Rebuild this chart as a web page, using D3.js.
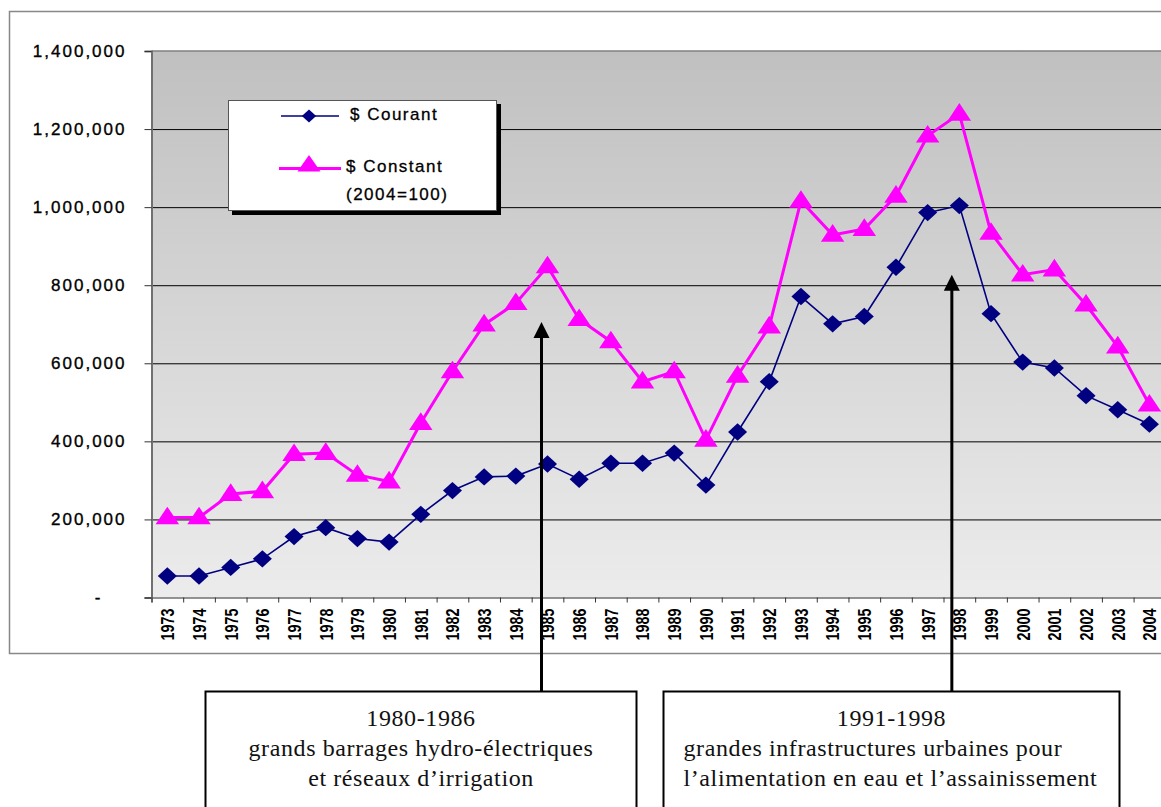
<!DOCTYPE html>
<html>
<head>
<meta charset="utf-8">
<script src="https://cdn.jsdelivr.net/npm/d3@7"></script>
<style>
body { margin: 0; background: #fff; }
svg { display: block; }
</style>
</head>
<body>
<svg width="1161" height="807"></svg>
<script>
// chart values
var years = [1973,1974,1975,1976,1977,1978,1979,1980,1981,1982,1983,1984,1985,1986,1987,1988,
  1989,1990,1991,1992,1993,1994,1995,1996,1997,1998,1999,2000,2001,2002,2003,2004];
var courant = [55000,55000,77000,99000,156000,179000,151000,142000,213000,274000,309000,311000,
  342000,303000,344000,344000,370000,288000,424000,553000,771000,701000,720000,846000,
  986000,1004000,727000,603000,588000,517000,481000,444000];
var constant = [205000,205000,265000,272000,367000,370000,314000,297000,447000,579000,699000,754000,
  848000,713000,656000,553000,579000,404000,568000,694000,1016000,929000,944000,1029000,
  1183000,1239000,934000,827000,840000,750000,643000,494000];
var yTicks = [0,200000,400000,600000,800000,1000000,1200000,1400000];
var seriesNames = ['$ Courant', '$ Constant'];
var notes = [
  {year: 1985, tip: 706000, title: '1980-1986', lines: ['grands barrages hydro-électriques', 'et réseaux d\u2019irrigation']},
  {year: 1998, tip: 827000, title: '1991-1998', lines: ['grandes infrastructures urbaines pour', 'l\u2019alimentation en eau et l\u2019assainissement']}
];

var svg = d3.select('svg');
var plotL = 151.5, plotT = 51, plotB = 597.5;
var bw = 31.68;
var plotR = plotL + bw * years.length;

let x = d3.scaleBand().domain(years).range([plotL, plotR]);
let xIdx = d3.scaleLinear().domain([0, years.length]).range([plotL, plotR]);
let y = d3.scaleLinear().domain([0, 1400000]).range([plotB, plotT]);
let cx = d => x(d) + x.bandwidth() / 2;

// outer frame
svg.append('rect').attr('x', 9.5).attr('y', 11.5).attr('width', 1200).attr('height', 642)
  .attr('fill', '#fff').attr('stroke', '#888').attr('stroke-width', 1.5);

// plot background gradient
var grad = svg.append('defs').append('linearGradient').attr('id', 'bg')
  .attr('x1', 0).attr('y1', 0).attr('x2', 0).attr('y2', 1);
grad.append('stop').attr('offset', '0%').attr('stop-color', '#c0c0c0');
grad.append('stop').attr('offset', '100%').attr('stop-color', '#ececec');
svg.append('rect').attr('x', plotL).attr('y', plotT).attr('width', plotR - plotL).attr('height', plotB - plotT)
  .attr('fill', 'url(#bg)');

// gridlines
svg.append('g').attr('transform', `translate(${plotL},0)`)
  .call(d3.axisLeft(y).tickValues(yTicks.slice(1, -1)).tickSize(-(plotR - plotL)).tickFormat(''))
  .call(g => g.select('.domain').remove())
  .selectAll('line').attr('stroke', '#000').attr('stroke-width', 1);
svg.append('line').attr('x1', plotL).attr('x2', plotR).attr('y1', plotT).attr('y2', plotT)
  .attr('stroke', '#808080').attr('stroke-width', 1.5);

// y axis
let yAxis = d3.axisLeft(y).tickValues(yTicks).tickSize(7).tickPadding(18)
  .tickFormat(d => d === 0 ? '-' : d3.format(',')(d));
svg.append('g').attr('id', 'yAxisG').attr('transform', `translate(${plotL},0)`).call(yAxis)
  .call(g => g.select('.domain').attr('stroke', '#707070').attr('stroke-width', 2))
  .call(g => g.selectAll('line').attr('stroke', '#333'))
  .selectAll('text').attr('font-family', 'Liberation Sans, Arial, sans-serif').attr('font-size', 17)
  .attr('letter-spacing', '2px').attr('fill', '#000').attr('stroke', '#000').attr('stroke-width', 0.35)
  .attr('dx', d => d === 0 ? -24 : 0);

// x axis: tick marks at category edges
svg.append('g').attr('transform', `translate(0,${plotB})`)
  .call(d3.axisBottom(xIdx).tickValues(d3.range(years.length + 1)).tickSize(5).tickFormat(''))
  .call(g => g.select('.domain').attr('stroke', '#707070').attr('stroke-width', 1.5))
  .selectAll('line').attr('stroke', '#333');

// x labels, rotated
svg.append('g').attr('id', 'xAxisG').attr('transform', `translate(0,${plotB})`)
  .call(d3.axisBottom(x).tickSize(0).tickPadding(0))
  .call(g => g.select('.domain').remove())
  .selectAll('text')
  .attr('font-family', 'Liberation Sans, Arial, sans-serif').attr('font-size', 19).attr('font-weight', 'bold')
  .attr('text-anchor', 'end').attr('transform', 'rotate(-90)')
  .attr('x', -11).attr('y', 0).attr('dy', '0.36em')
  .attr('textLength', 32).attr('lengthAdjust', 'spacingAndGlyphs').attr('fill', '#000');

// lines
let line = d3.line().x((d, i) => cx(years[i])).y(d => y(d));
svg.append('path').datum(constant).attr('d', line).attr('fill', 'none')
  .attr('stroke', '#ff00ff').attr('stroke-width', 3);
svg.append('path').datum(courant).attr('d', line).attr('fill', 'none')
  .attr('stroke', '#000080').attr('stroke-width', 1.6);

let tri = d3.symbol().type(d3.symbolTriangle).size(180);
let dia = d3.symbol().type(d3.symbolSquare).size(150);

svg.append('g').selectAll('path').data(constant).enter().append('path')
  .attr('d', tri).attr('fill', '#ff00ff')
  .attr('transform', (d, i) => `translate(${cx(years[i])},${y(d) + 1}) scale(1.15,1)`);
svg.append('g').selectAll('path').data(courant).enter().append('path')
  .attr('d', dia).attr('fill', '#000080')
  .attr('transform', (d, i) => `translate(${cx(years[i])},${y(d)}) scale(1.1,1) rotate(45)`);

// legend
var lg = svg.append('g');
lg.append('rect').attr('x', 232).attr('y', 104).attr('width', 269).attr('height', 111).attr('fill', '#000');
lg.append('rect').attr('x', 228.5).attr('y', 100.5).attr('width', 268).attr('height', 110)
  .attr('fill', '#fff').attr('stroke', '#555').attr('stroke-width', 1);
lg.append('line').attr('x1', 281).attr('x2', 339).attr('y1', 116).attr('y2', 116)
  .attr('stroke', '#000080').attr('stroke-width', 1.6);
lg.append('path').attr('d', d3.symbol().type(d3.symbolSquare).size(85))
  .attr('fill', '#000080').attr('transform', 'translate(309,116) scale(1.1,1) rotate(45)');
lg.append('line').attr('x1', 279).attr('x2', 341).attr('y1', 168.5).attr('y2', 168.5)
  .attr('stroke', '#ff00ff').attr('stroke-width', 3);
lg.append('path').attr('d', d3.symbol().type(d3.symbolTriangle).size(160))
  .attr('fill', '#ff00ff').attr('transform', 'translate(309,166) scale(1.2,1)');
var lt = lg.append('g').attr('font-family', 'Liberation Sans, Arial, sans-serif').attr('font-size', 17)
  .attr('letter-spacing', '1.5px').attr('fill', '#000').attr('stroke', '#000').attr('stroke-width', 0.3);
lt.append('text').attr('x', 350).attr('y', 120).text(seriesNames[0]);
lt.append('text').attr('x', 346).attr('y', 172).text(seriesNames[1]);
lt.append('text').attr('x', 346).attr('y', 200).text('(2004=100)');

// annotations
var boxes = [{x: 205.5, w: 431, center: true}, {x: 663.5, w: 456, center: false}];
notes.forEach(function(n, k) {
  var ax = cx(n.year) - (k === 0 ? 6 : 7.5);
  var tipY = y(n.tip);
  svg.append('line').attr('x1', ax).attr('x2', ax).attr('y1', 691).attr('y2', tipY + 12)
    .attr('stroke', '#000').attr('stroke-width', 3);
  svg.append('path').attr('d', `M${ax},${tipY} L${ax - 8},${tipY + 16} L${ax + 8},${tipY + 16} Z`).attr('fill', '#000');
  var b = boxes[k];
  svg.append('rect').attr('x', b.x).attr('y', 691.5).attr('width', b.w).attr('height', 130)
    .attr('fill', '#fff').attr('stroke', '#000').attr('stroke-width', 2);
  var tg = svg.append('g').attr('font-family', 'Liberation Serif, Times New Roman, serif').attr('font-size', 24)
    .attr('letter-spacing', '0.6px').attr('fill', '#111');
  tg.append('text').attr('x', b.x + b.w / 2).attr('y', 726).attr('text-anchor', 'middle').text(n.title);
  n.lines.forEach(function(s, j) {
    tg.append('text').attr('x', b.center ? b.x + b.w / 2 : b.x + 20).attr('y', 756 + j * 30)
      .attr('text-anchor', b.center ? 'middle' : 'start').text(s);
  });
});
</script>
</body>
</html>
